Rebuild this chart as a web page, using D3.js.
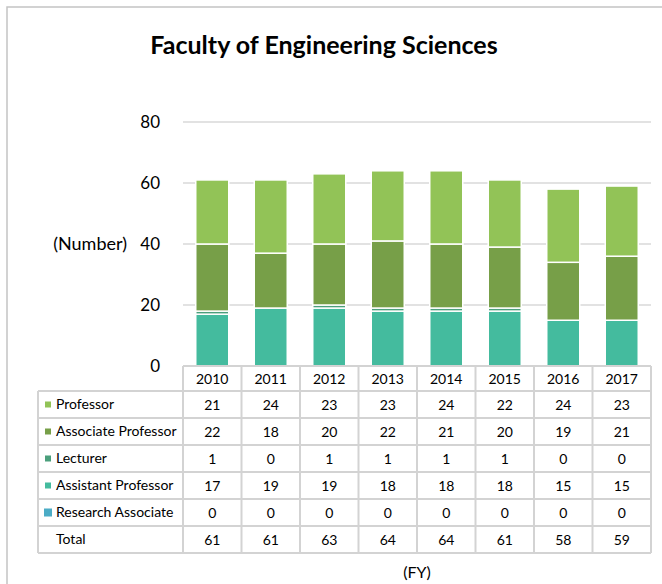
<!DOCTYPE html>
<html>
<head>
<meta charset="utf-8">
<script src="https://cdn.jsdelivr.net/npm/d3@7"></script>
<style>
  body { margin: 0; background: #fff; }
  svg { font-family: Lato, "Open Sans", sans-serif; }
</style>
</head>
<body>
<div id="chart"></div>
<script>
const width = 662;
const height = 584;

// data
const years = ["2010", "2011", "2012", "2013", "2014", "2015", "2016", "2017"];
const professor = [21, 24, 23, 23, 24, 22, 24, 23];
const associateProfessor = [22, 18, 20, 22, 21, 20, 19, 21];
const lecturer = [1, 0, 1, 1, 1, 1, 0, 0];
const assistantProfessor = [17, 19, 19, 18, 18, 18, 15, 15];
const researchAssociate = [0, 0, 0, 0, 0, 0, 0, 0];
const yTicks = [0, 20, 40, 60, 80];

const series = [
    { name: "Professor", values: professor, color: "#92c357" },
    { name: "Associate Professor", values: associateProfessor, color: "#779f48" },
    { name: "Lecturer", values: lecturer, color: "#4b9f7c" },
    { name: "Assistant Professor", values: assistantProfessor, color: "#44bb9e" },
    { name: "Research Associate", values: researchAssociate, color: "#4bacc6" }
];
const totals = years.map((y, i) => d3.sum(series, s => s.values[i]));

const svg = d3.select("#chart").append("svg").attr("width", width).attr("height", height);

// outer frame
svg.append("rect")
    .attr("x", 7).attr("y", 7)
    .attr("width", 720).attr("height", 700)
    .attr("fill", "none")
    .attr("stroke", "#c4c4c4")
    .attr("stroke-width", 1.5);

svg.append("text")
    .attr("x", 324).attr("y", 54)
    .attr("text-anchor", "middle")
    .attr("font-size", 25)
    .attr("font-weight", "bold")
    .attr("fill", "#000")
    .text("Faculty of Engineering Sciences");

const x = d3.scaleBand().domain(years).range([183, 651]);
const y = d3.scaleLinear().domain([0, 80]).range([366, 122]);
const barWidth = 33;

// gridlines
svg.append("g").selectAll("line")
    .data(yTicks.filter(d => d > 0))
    .enter().append("line")
    .attr("x1", 183).attr("x2", 651)
    .attr("y1", d => y(d)).attr("y2", d => y(d))
    .attr("stroke", "#d9d9d9")
    .attr("stroke-width", 1.5);

// y axis labels
const yAxis = d3.axisLeft(y).tickValues(yTicks).tickSize(0).tickPadding(0);
const yg = svg.append("g").attr("transform", "translate(160,0)").call(yAxis);
yg.select(".domain").remove();
yg.selectAll("text").attr("font-size", 17).attr("fill", "#000").attr("font-family", "Lato, sans-serif");

svg.append("text")
    .attr("x", 127).attr("y", 250)
    .attr("text-anchor", "end")
    .attr("font-size", 18)
    .text("(Number)");

// stacked bars (bottom to top)
const stackKeys = ["Research Associate", "Assistant Professor", "Lecturer", "Associate Professor", "Professor"];
const rows = years.map((yr, i) => {
    const r = { year: yr };
    series.forEach(s => { r[s.name] = s.values[i]; });
    return r;
});
const stacked = d3.stack().keys(stackKeys)(rows);
const colorOf = new Map(series.map(s => [s.name, s.color]));

svg.append("g").selectAll("g")
    .data(stacked)
    .enter().append("g")
    .attr("fill", d => colorOf.get(d.key))
    .selectAll("rect")
    .data(d => d.filter(p => p[1] > p[0]))
    .enter().append("rect")
    .attr("x", d => x(d.data.year) + (x.bandwidth() - barWidth) / 2)
    .attr("width", barWidth)
    .attr("y", d => y(d[1]))
    .attr("height", d => y(d[0]) - y(d[1]))
    .attr("stroke", "#fff")
    .attr("stroke-width", 1.5);

// data table
const headerTop = 366;
const headerH = 25;
const rowH = 27;
const tableLeft = 38;
const tableRows = series.map(s => ({ name: s.name, color: s.color, values: s.values }))
    .concat([{ name: "Total", color: null, values: totals }]);
const tableBottom = headerTop + headerH + rowH * tableRows.length;
const gridColor = "#d3d3d3";

const table = svg.append("g");

// horizontal lines
table.append("line")
    .attr("x1", 183).attr("x2", 651)
    .attr("y1", headerTop).attr("y2", headerTop)
    .attr("stroke", gridColor).attr("stroke-width", 2);
d3.range(tableRows.length + 1).forEach(i => {
    const yy = headerTop + headerH + i * rowH;
    table.append("line")
        .attr("x1", tableLeft).attr("x2", 651)
        .attr("y1", yy).attr("y2", yy)
        .attr("stroke", gridColor).attr("stroke-width", 2);
});
// vertical lines
table.append("line")
    .attr("x1", tableLeft).attr("x2", tableLeft)
    .attr("y1", headerTop + headerH).attr("y2", tableBottom)
    .attr("stroke", gridColor).attr("stroke-width", 2);
years.concat(["end"]).forEach(yr => {
    const xx = yr === "end" ? 651 : x(yr);
    table.append("line")
        .attr("x1", xx).attr("x2", xx)
        .attr("y1", headerTop).attr("y2", tableBottom)
        .attr("stroke", gridColor).attr("stroke-width", 2);
});

// header years
table.selectAll(".yr")
    .data(years)
    .enter().append("text")
    .attr("x", d => x(d) + x.bandwidth() / 2)
    .attr("y", headerTop + headerH / 2 + 5)
    .attr("text-anchor", "middle")
    .attr("font-size", 14)
    .text(d => d);

// row labels, swatches, values
tableRows.forEach((r, i) => {
    const cy = headerTop + headerH + i * rowH + rowH / 2;
    if (r.color) {
        const big = r.name === "Research Associate";
        const sz = big ? 8 : 6;
        table.append("rect")
            .attr("x", big ? 44 : 45)
            .attr("y", cy - sz / 2)
            .attr("width", sz).attr("height", sz)
            .attr("fill", r.color);
    }
    table.append("text")
        .attr("x", 56).attr("y", cy + 4.5)
        .attr("font-size", 14)
        .text(r.name);
    table.selectAll(null)
        .data(r.values)
        .enter().append("text")
        .attr("x", (d, j) => x(years[j]) + x.bandwidth() / 2)
        .attr("y", cy + 5)
        .attr("text-anchor", "middle")
        .attr("font-size", 14)
        .text(d => d);
});

svg.append("text")
    .attr("x", 417).attr("y", 578)
    .attr("text-anchor", "middle")
    .attr("font-size", 16)
    .text("(FY)");
</script>
</body>
</html>
